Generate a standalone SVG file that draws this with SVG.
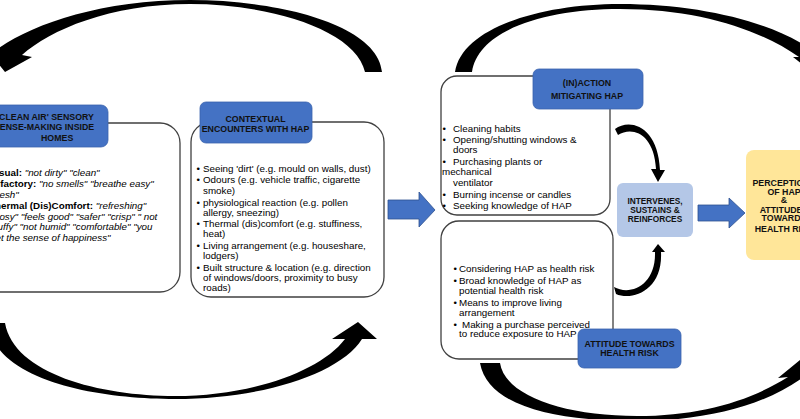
<svg xmlns="http://www.w3.org/2000/svg" width="800" height="419" viewBox="0 0 800 419">
<style>
  text { font-family: "Liberation Sans", Arial, sans-serif; fill: #000; }
  .body { font-size: 9.8px; }
  .hdr { font-size: 8.8px; font-weight: bold; fill: #111; }
  .b { font-weight: bold; }
  .i { font-style: italic; }
  .box { fill: #fff; stroke: #404040; stroke-width: 1.3; }
  .hbox { fill: #4472c4; stroke: #3a63ad; stroke-width: 0.8; }
  .barrow { fill: #4472c4; stroke: #2f528f; stroke-width: 0.8; }
  .curve { fill: #000; }
</style>
<rect width="800" height="419" fill="#fff"/>

<g id="connectors">
  <!-- big curved arrows -->
  <path class="curve" d="M382,72 C378,25 280,0 190,0 C100,0 30,25 -4,50 L-16,46 L5,72 L32,57 L22,55 C50,30 110,4 190,4 C270,4 356,30 365,72 Z"/>
  <path class="curve" d="M-12,323 C-5,382 100,399 175,399 C262,399 340,374 362,339 L377,339 L358,322 L332,339 L345,339 C320,372 250,396 175,396 C100,396 14,374 5,323 Z"/>
  <path class="curve" d="M455,72 C462,28 540,4 620,4 C700,4 772,22 812,50 L812,72 L793,57 L799,57 C760,30 700,9 620,9 C545,9 478,30 472,72 Z"/>
  <path class="curve" d="M480,363 C488,408 560,421 637,421 C712,421 776,402 812,370 L812,350 L778,378 L788,377 C750,401 700,416 637,416 C565,416 505,396 500,363 Z"/>
  <!-- small curved arrows -->
  <path class="curve" d="M615,129 C630,118 658,126 660,170 L665,170 L658,182 L651,169 L656,169 C654,133 632,126 618,135 Z"/>
  <path class="curve" d="M614,287 C630,296 656,286 655,252 L652,252 L658,244 L665,252 L661,252 C663,291 632,301 616,294 Z"/>
  <!-- block arrows -->
  <polygon class="barrow" points="388,200 419,200 419,192 435,210 419,227 419,219 388,219"/>
  <polygon class="barrow" points="698,205 729,205 729,198 745,213 729,228 729,221 698,221"/>
</g>

<g id="sensory">
  <rect class="box" x="-30" y="123" width="210" height="169" rx="20"/>
  <rect class="hbox" x="-20" y="105" width="128" height="42" rx="7"/>
  <text class="hdr" x="-3" y="119.5">'CLEAN AIR' SENSORY</text>
  <text class="hdr" x="-6" y="130">SENSE-MAKING INSIDE</text>
  <text class="hdr" x="41" y="140.5">HOMES</text>
  <text class="body" x="-10" y="175.5"><tspan class="b">Visual: </tspan><tspan class="i">"not dirty" "clean"</tspan></text>
  <text class="body" x="-10" y="187"><tspan class="b">Olfactory: </tspan><tspan class="i">"no smells" "breathe easy"</tspan></text>
  <text class="body i" x="-10" y="197.5">"fresh"</text>
  <text class="body" x="-11" y="208.5"><tspan class="b">Thermal (Dis)Comfort: </tspan><tspan class="i">"refreshing"</tspan></text>
  <text class="body i" x="-9" y="219.5">"cosy" "feels good" "safer" "crisp"  " not</text>
  <text class="body i" x="-10" y="229.5">stuffy" "not humid" "comfortable" "you</text>
  <text class="body i" x="-10" y="240.5">get the sense of happiness"</text>
</g>

<g id="contextual">
  <rect class="box" x="191" y="122" width="193" height="175" rx="20"/>
  <rect class="hbox" x="200" y="102" width="112" height="41" rx="6"/>
  <text class="hdr" x="255.5" y="121.5" text-anchor="middle">CONTEXTUAL</text>
  <text class="hdr" x="255.5" y="131.5" text-anchor="middle">ENCOUNTERS WITH HAP</text>
  <g class="body">
    <text x="196.5" y="171.5">•</text><text x="203" y="171.5">Seeing 'dirt' (e.g. mould on walls, dust)</text>
    <text x="196.5" y="182.5">•</text><text x="203" y="182.5">Odours (e.g. vehicle traffic, cigarette</text>
    <text x="203" y="193.5">smoke)</text>
    <text x="196.5" y="205.5">•</text><text x="203" y="205.5">physiological reaction (e.g. pollen</text>
    <text x="203" y="215.5">allergy, sneezing)</text>
    <text x="196.5" y="226.5">•</text><text x="203" y="226.5">Thermal (dis)comfort (e.g. stuffiness,</text>
    <text x="203" y="236.5">heat)</text>
    <text x="196.5" y="248.5">•</text><text x="203" y="248.5">Living arrangement (e.g. houseshare,</text>
    <text x="203" y="258.5">lodgers)</text>
    <text x="196.5" y="270.5">•</text><text x="203" y="270.5">Built structure &amp; location (e.g. direction</text>
    <text x="203" y="280.5">of windows/doors, proximity to busy</text>
    <text x="203" y="290.5">roads)</text>
  </g>
</g>

<g id="inaction">
  <rect class="box" x="441" y="76" width="169" height="139" rx="16"/>
  <rect class="hbox" x="533" y="69" width="110" height="40" rx="6"/>
  <text class="hdr" x="587" y="85.5" text-anchor="middle">(IN)ACTION</text>
  <text class="hdr" x="587" y="99" text-anchor="middle">MITIGATING HAP</text>
  <g class="body">
    <text x="442.5" y="131.5">•</text><text x="453" y="131.5">Cleaning habits</text>
    <text x="442.5" y="142.5">•</text><text x="453" y="142.5">Opening/shutting windows &amp;</text>
    <text x="453" y="152.5">doors</text>
    <text x="442.5" y="164.5">•</text><text x="453" y="164.5">Purchasing plants or</text>
    <text x="442" y="174.5">mechanical</text>
    <text x="453" y="185.5">ventilator</text>
    <text x="442.5" y="197.5">•</text><text x="453" y="197.5">Burning incense or candles</text>
    <text x="442.5" y="208.5">•</text><text x="453" y="208.5">Seeking knowledge of HAP</text>
  </g>
</g>

<g id="attitude">
  <rect class="box" x="441" y="221" width="172" height="138" rx="18"/>
  <g class="body">
    <text x="453.5" y="271.5">•</text><text x="459" y="271.5">Considering HAP as health risk</text>
    <text x="453.5" y="284">•</text><text x="459" y="284">Broad knowledge of HAP as</text>
    <text x="459" y="293.5">potential health risk</text>
    <text x="453.5" y="305.5">•</text><text x="459" y="305.5">Means to improve living</text>
    <text x="459" y="315.5">arrangement</text>
    <text x="453.5" y="327.5">•</text><text x="462" y="327.5">Making a purchase perceived</text>
    <text x="459" y="336.5">to reduce exposure to HAP</text>
  </g>
  <rect class="hbox" x="578" y="329" width="103" height="39" rx="6"/>
  <text class="hdr" x="629.5" y="346.5" text-anchor="middle">ATTITUDE TOWARDS</text>
  <text class="hdr" x="629.5" y="356" text-anchor="middle">HEALTH RISK</text>
</g>

<g id="intervenes">
  <rect x="617" y="183" width="76" height="54" rx="6" fill="#b4c7e7"/>
  <text class="hdr" x="655" y="203.5" text-anchor="middle" style="font-size:8.3px">INTERVENES,</text>
  <text class="hdr" x="655" y="212.5" text-anchor="middle" style="font-size:8.3px">SUSTAINS &amp;</text>
  <text class="hdr" x="655" y="221.5" text-anchor="middle" style="font-size:8.3px">REINFORCES</text>
</g>

<g id="perception">
  <rect x="746" y="150" width="80" height="110" rx="8" fill="#ffe699"/>
  <text class="hdr" x="784" y="185.5" text-anchor="middle">PERCEPTIONS</text>
  <text class="hdr" x="784" y="194.5" text-anchor="middle">OF HAP</text>
  <text class="hdr" x="784" y="203" text-anchor="middle">&amp;</text>
  <text class="hdr" x="784" y="212.5" text-anchor="middle">ATTITUDES</text>
  <text class="hdr" x="784" y="220.5" text-anchor="middle">TOWARDS</text>
  <text class="hdr" x="784" y="231.5" text-anchor="middle">HEALTH RISK</text>
</g>
</svg>
